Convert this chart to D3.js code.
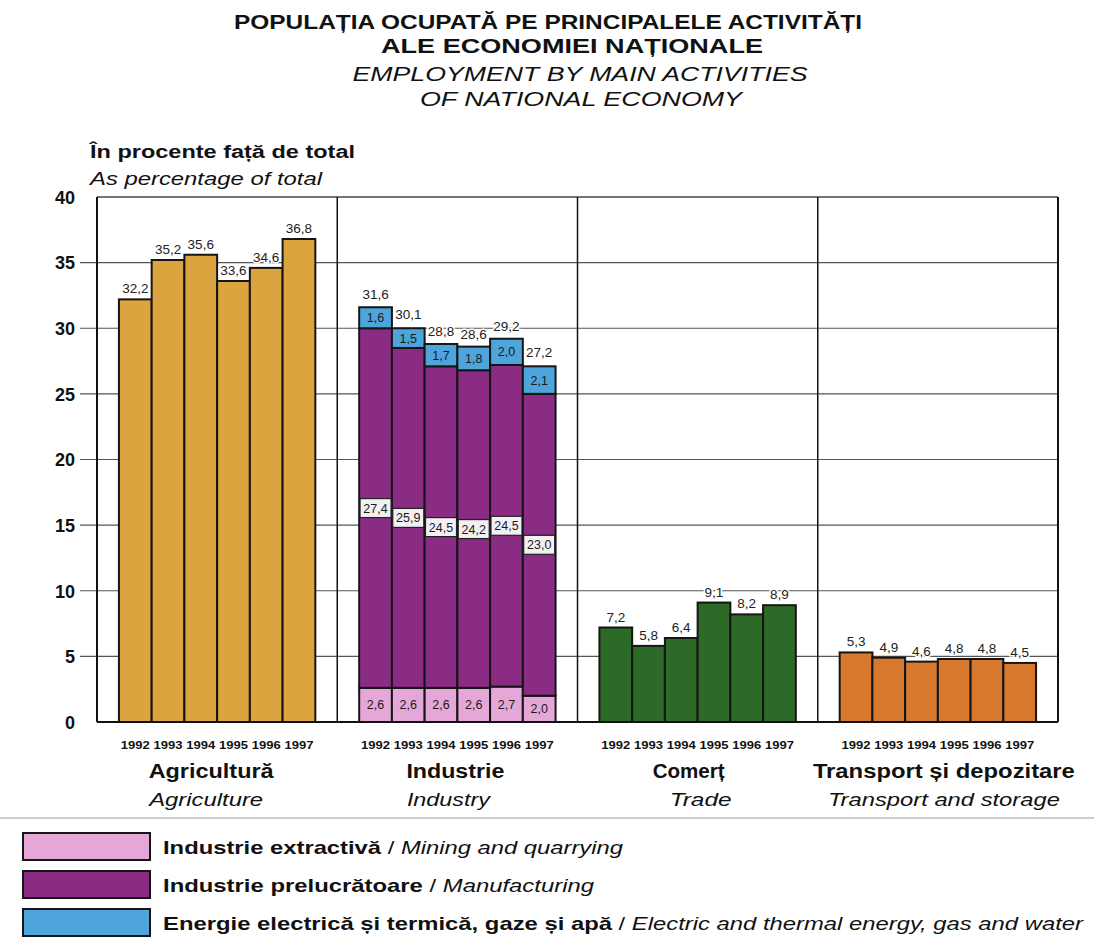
<!DOCTYPE html>
<html>
<head>
<meta charset="utf-8">
<script src="https://cdn.jsdelivr.net/npm/d3@7"></script>
<style>
  html, body { margin: 0; padding: 0; background: #fff; }
  svg { display: block; font-family: "Liberation Sans", Arial, Helvetica, sans-serif; }
</style>
</head>
<body>
<svg id="chart" width="1094" height="946"></svg>
<script>
// ---- data ----
const years = ["1992", "1993", "1994", "1995", "1996", "1997"];
const groups = ["agri", "ind", "trade", "transport"];
const groupRo = ["Agricultură", "Industrie", "Comerț", "Transport și depozitare"];
const groupEn = ["Agriculture", "Industry", "Trade", "Transport and storage"];

const agriculture = [32.2, 35.2, 35.6, 33.6, 34.6, 36.8];
const mining = [2.6, 2.6, 2.6, 2.6, 2.7, 2.0];
const manufacturing = [27.4, 25.9, 24.5, 24.2, 24.5, 23.0];
const energy = [1.6, 1.5, 1.7, 1.8, 2.0, 2.1];
const industryTotal = [31.6, 30.1, 28.8, 28.6, 29.2, 27.2];
const trade = [7.2, 5.8, 6.4, 9.1, 8.2, 8.9];
const transport = [5.3, 4.9, 4.6, 4.8, 4.8, 4.5];
const yTicks = [0, 5, 10, 15, 20, 25, 30, 35, 40];

const legendRo = ["Industrie extractivă", "Industrie prelucrătoare", "Energie electrică și termică, gaze și apă"];
const legendEn = ["Mining and quarrying", "Manufacturing", "Electric and thermal energy, gas and water"];

// ---- styling ----
const col = {
  agri: "#DBA43F",
  mining: "#E4A7D7",
  manuf: "#8B2C84",
  energy: "#4DA5DC",
  trade: "#2E6A27",
  transport: "#D6792F"
};
const fmt = v => d3.format(".1f")(v).replace(".", ",");

const svg = d3.select("#chart");
const plotL = 97, plotR = 1058, plotT = 197, plotB = 722;

const y = d3.scaleLinear().domain([0, 40]).range([plotB, plotT]);
const xGroup = d3.scaleBand().domain(groups).range([plotL, plotR]).paddingInner(0).paddingOuter(0);
const xYear = d3.scaleBand().domain(years).range([0, xGroup.bandwidth()]).paddingInner(0).paddingOuter(0.67);

// text widths of the category and legend captions
const groupRoW = [125, 98, 72, 262];
const groupEnW = [114, 83, 62, 232];
const groupRoDx = [-6, -2, -9, 6];
const groupEnDx = [-11, -9, 3, 6];
const legendW = [460, 431, 920];

// ---- titles ----
const title = svg.append("g").attr("text-anchor", "middle").attr("fill", "#111");
title.append("text").attr("x", 548).attr("y", 29).attr("font-size", 19.5).attr("font-weight", "bold")
  .attr("textLength", 628).attr("lengthAdjust", "spacingAndGlyphs")
  .text("POPULAȚIA OCUPATĂ PE PRINCIPALELE ACTIVITĂȚI");
title.append("text").attr("x", 572).attr("y", 53).attr("font-size", 19.5).attr("font-weight", "bold")
  .attr("textLength", 382).attr("lengthAdjust", "spacingAndGlyphs")
  .text("ALE ECONOMIEI NAȚIONALE");
title.append("text").attr("x", 580).attr("y", 81).attr("font-size", 20).attr("font-style", "italic")
  .attr("textLength", 455).attr("lengthAdjust", "spacingAndGlyphs")
  .text("EMPLOYMENT BY MAIN ACTIVITIES");
title.append("text").attr("x", 581).attr("y", 106).attr("font-size", 20).attr("font-style", "italic")
  .attr("textLength", 322).attr("lengthAdjust", "spacingAndGlyphs")
  .text("OF NATIONAL ECONOMY");

svg.append("text").attr("x", 90).attr("y", 158).attr("font-size", 18).attr("font-weight", "bold")
  .attr("fill", "#111").attr("textLength", 265).attr("lengthAdjust", "spacingAndGlyphs")
  .text("În procente față de total");
svg.append("text").attr("x", 90).attr("y", 185).attr("font-size", 18).attr("font-style", "italic")
  .attr("fill", "#111").attr("textLength", 232).attr("lengthAdjust", "spacingAndGlyphs")
  .text("As percentage of total");

// ---- grid & y axis ----
const grid = svg.append("g");
grid.selectAll("line").data(yTicks.filter(t => t > 0 && t < 40)).join("line")
  .attr("x1", 80).attr("x2", plotR)
  .attr("y1", d => y(d)).attr("y2", d => y(d))
  .attr("stroke", "#555").attr("stroke-width", 1.2);

const yAxis = d3.axisLeft(y).tickValues(yTicks).tickSize(0).tickPadding(0);
const ga = svg.append("g").attr("transform", `translate(${plotL - 22},0)`).call(yAxis);
ga.select(".domain").remove();
ga.selectAll("text").attr("font-size", 18).attr("font-weight", "bold").attr("fill", "#111")
  .attr("font-family", "'Liberation Sans', Arial, sans-serif").attr("dy", "0.35em");

// frame and panel dividers
svg.append("line").attr("x1", plotL).attr("x2", plotR).attr("y1", plotT).attr("y2", plotT)
  .attr("stroke", "#444").attr("stroke-width", 1.5);
svg.append("line").attr("x1", plotL).attr("x2", plotL).attr("y1", plotT).attr("y2", plotB)
  .attr("stroke", "#111").attr("stroke-width", 2);
svg.append("line").attr("x1", plotR).attr("x2", plotR).attr("y1", plotT).attr("y2", plotB)
  .attr("stroke", "#111").attr("stroke-width", 2);
svg.append("g").selectAll("line").data(groups.slice(1)).join("line")
  .attr("x1", d => xGroup(d)).attr("x2", d => xGroup(d))
  .attr("y1", plotT).attr("y2", plotB)
  .attr("stroke", "#111").attr("stroke-width", 1.5);

// ---- bars ----
function simpleBars(key, values, color) {
  const g = svg.append("g").attr("transform", `translate(${xGroup(key)},0)`);
  g.selectAll("rect").data(values).join("rect")
    .attr("x", (d, i) => xYear(years[i]))
    .attr("width", xYear.bandwidth())
    .attr("y", d => y(d))
    .attr("height", d => y(0) - y(d))
    .attr("fill", color).attr("stroke", "#151515").attr("stroke-width", 2);
  g.selectAll("text").data(values).join("text")
    .attr("x", (d, i) => xYear(years[i]) + xYear.bandwidth() / 2)
    .attr("y", d => y(d) - 6)
    .attr("text-anchor", "middle").attr("font-size", 13.5).attr("fill", "#222")
    .attr("stroke", "#fff").attr("stroke-width", 3).attr("paint-order", "stroke")
    .text(d => fmt(d));
}

simpleBars("agri", agriculture, col.agri);
simpleBars("trade", trade, col.trade);
simpleBars("transport", transport, col.transport);

// stacked industry bars
const indRows = years.map((yr, i) => ({ year: yr, mining: mining[i], manuf: manufacturing[i], energy: energy[i], total: industryTotal[i] }));
const series = d3.stack().keys(["mining", "manuf", "energy"])(indRows);
const gi = svg.append("g").attr("transform", `translate(${xGroup("ind")},0)`);
gi.selectAll("g.s").data(series).join("g")
  .attr("class", "s")
  .attr("fill", d => col[d.key])
  .selectAll("rect").data(d => d).join("rect")
  .attr("x", d => xYear(d.data.year))
  .attr("width", xYear.bandwidth())
  .attr("y", d => y(d[1]))
  .attr("height", d => y(d[0]) - y(d[1]))
  .attr("stroke", "#151515").attr("stroke-width", 2);

// segment labels for mining and energy
[series[0], series[2]].forEach(s => {
  gi.append("g").selectAll("text").data(s).join("text")
    .attr("x", d => xYear(d.data.year) + xYear.bandwidth() / 2)
    .attr("y", d => (y(d[0]) + y(d[1])) / 2)
    .attr("dy", "0.36em")
    .attr("text-anchor", "middle").attr("font-size", 12.5).attr("fill", "#1a1a1a")
    .text(d => fmt(d.data[s.key]));
});

// boxed labels for manufacturing
const boxes = gi.append("g").selectAll("g").data(series[1]).join("g")
  .attr("transform", d => `translate(${xYear(d.data.year) + xYear.bandwidth() / 2},${(y(d[0]) + y(d[1])) / 2})`);
boxes.append("rect").attr("x", -15.5).attr("y", -9.5).attr("width", 31).attr("height", 19)
  .attr("fill", "#f2f0f3").attr("stroke", "#222").attr("stroke-width", 1.2);
boxes.append("text").attr("text-anchor", "middle").attr("dy", "0.36em")
  .attr("font-size", 12.5).attr("fill", "#1a1a1a")
  .text(d => fmt(d.data.manuf));

// totals above industry bars
gi.append("g").selectAll("text").data(indRows).join("text")
  .attr("x", d => xYear(d.year) + xYear.bandwidth() / 2)
  .attr("y", d => y(d.total) - 8)
  .attr("text-anchor", "middle").attr("font-size", 13.5).attr("fill", "#222")
  .attr("stroke", "#fff").attr("stroke-width", 3).attr("paint-order", "stroke")
  .text(d => fmt(d.total));

// base line
svg.append("line").attr("x1", plotL).attr("x2", plotR).attr("y1", plotB).attr("y2", plotB)
  .attr("stroke", "#111").attr("stroke-width", 2);

// ---- x labels ----
groups.forEach((g, k) => {
  const gx = svg.append("g").attr("transform", `translate(${xGroup(g)},0)`);
  gx.selectAll("text.yr").data(years).join("text")
    .attr("class", "yr")
    .attr("x", d => xYear(d) + xYear.bandwidth() / 2)
    .attr("y", 749).attr("text-anchor", "middle")
    .attr("font-size", 11).attr("font-weight", "bold").attr("fill", "#111")
    .attr("textLength", 29).attr("lengthAdjust", "spacingAndGlyphs")
    .text(d => d);
  gx.append("text").attr("x", xGroup.bandwidth() / 2 + groupRoDx[k]).attr("y", 778)
    .attr("text-anchor", "middle").attr("font-size", 19.5).attr("font-weight", "bold").attr("fill", "#111")
    .attr("textLength", groupRoW[k]).attr("lengthAdjust", "spacingAndGlyphs")
    .text(groupRo[k]);
  gx.append("text").attr("x", xGroup.bandwidth() / 2 + groupEnDx[k]).attr("y", 806)
    .attr("text-anchor", "middle").attr("font-size", 19).attr("font-style", "italic").attr("fill", "#111")
    .attr("textLength", groupEnW[k]).attr("lengthAdjust", "spacingAndGlyphs")
    .text(groupEn[k]);
});

// separator
svg.append("line").attr("x1", 0).attr("x2", 1094).attr("y1", 818).attr("y2", 818)
  .attr("stroke", "#bdbdbd").attr("stroke-width", 1.5);

// ---- legend ----
const legendColors = [col.mining, col.manuf, col.energy];
const legendY = [833, 871, 909];
const lg = svg.append("g");
legendRo.forEach((t, i) => {
  lg.append("rect").attr("x", 23).attr("y", legendY[i]).attr("width", 127).attr("height", 27)
    .attr("fill", legendColors[i]).attr("stroke", "#151515").attr("stroke-width", 2);
  const tx = lg.append("text").attr("x", 163).attr("y", legendY[i] + 21)
    .attr("font-size", 19).attr("fill", "#111")
    .attr("textLength", legendW[i]).attr("lengthAdjust", "spacingAndGlyphs");
  tx.append("tspan").attr("font-weight", "bold").text(t);
  tx.append("tspan").text(" / ");
  tx.append("tspan").attr("font-style", "italic").text(legendEn[i]);
});
</script>
</body>
</html>
